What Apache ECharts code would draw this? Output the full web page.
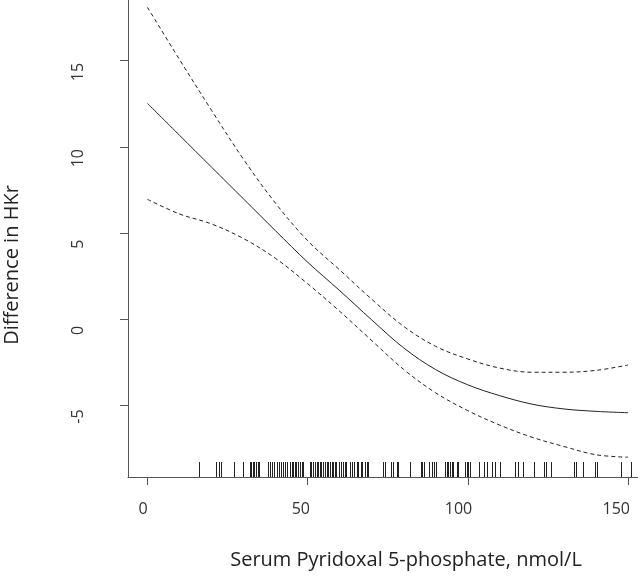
<!DOCTYPE html>
<html>
<head>
<meta charset="utf-8">
<script src="https://cdn.jsdelivr.net/npm/echarts@6/dist/echarts.min.js"></script>
<style>
html,body{margin:0;padding:0;background:#fff;}
#chart{width:638px;height:577px;}
</style>
</head>
<body>
<div id="chart"></div>
<script>
// ---- data ----
const xGrid = [0,10,20,30,40,50,60,70,80,90,100,110,120,130,140,150];
const fitValues   = [12.52,10.67,8.82,6.97,5.12,3.30,1.65,-0.05,-1.68,-2.94,-3.82,-4.45,-4.94,-5.22,-5.36,-5.44];
const upperValues = [18.10,15.07,12.12,9.27,6.72,4.55,2.85,1.15,-0.43,-1.59,-2.32,-2.85,-3.09,-3.09,-2.98,-2.67];
const lowerValues = [6.95,6.10,5.52,4.67,3.52,2.05,0.45,-1.25,-2.93,-4.29,-5.32,-6.16,-6.86,-7.40,-7.88,-8.02];
const rugValues = [16.0,21.5,22.3,23.0,27.0,29.9,31.9,32.3,32.8,33.2,33.8,34.4,34.9,37.7,38.2,38.8,39.5,40.3,41.0,41.6,42.3,43.0,43.6,44.4,45.0,45.5,46.0,46.5,47.0,47.6,48.1,48.6,50.7,51.2,51.7,52.3,52.8,53.3,53.8,54.3,54.8,55.4,55.9,56.4,56.9,57.5,58.0,58.5,59.0,59.8,60.4,61.1,61.6,62.1,63.2,63.7,64.4,65.3,65.8,66.6,67.1,67.9,68.4,68.9,73.6,74.1,75.9,76.5,77.8,78.3,81.9,85.3,85.8,86.3,87.9,88.7,89.4,90.0,92.8,93.4,93.9,94.4,94.9,95.4,96.5,97.0,99.1,99.6,100.1,100.7,103.5,105.0,106.0,107.5,108.6,109.9,114.6,115.6,117.2,120.6,123.8,124.5,126.0,133.0,133.9,136.0,139.6,140.4,147.9,150.8];
const xTicks = [0,50,100,150];
const yTicks = [-5,0,5,10,15];
const xTitle = 'Serum Pyridoxal 5-phosphate, nmol/L';
const yTitle = 'Difference in HKr';

// ---- chart ----
const X_MIN = -6.06, X_MAX = 153.1;
const Y_MIN = -9.17, Y_MAX = 18.52;
const Y_LABEL_SHIFT = 0.66;
const FONT = '"Open Sans", "Noto Sans", sans-serif';
const pair = arr => xGrid.map((x,i)=>[x,arr[i]]);

const chart = echarts.init(document.getElementById('chart'), null, {renderer:'canvas'});
const lineStyleSolid = {color:'#222', width:1};
const lineStyleDash = {color:'#222', width:1, type:[4,3]};

chart.setOption({
  animation:false,
  backgroundColor:'#ffffff',
  grid:{left:128, right:0, top:0, bottom:100, containLabel:false},
  xAxis:[{
    type:'value', min:X_MIN, max:X_MAX, position:'bottom',
    axisLine:{show:true, onZero:false, lineStyle:{color:'#555', width:1}},
    axisTick:{show:true, length:8, customValues:xTicks, lineStyle:{color:'#555'}},
    axisLabel:{show:false},
    splitLine:{show:false}
  },{
    type:'value', min:X_MIN+1.27, max:X_MAX+3.8, position:'bottom',
    axisLine:{show:false}, axisTick:{show:false}, splitLine:{show:false},
    axisLabel:{show:true, customValues:xTicks, margin:24, color:'#333', fontSize:16, fontFamily:FONT}
  }],
  yAxis:[{
    type:'value', min:Y_MIN, max:Y_MAX, position:'left',
    axisLine:{show:true, onZero:false, lineStyle:{color:'#555', width:1}},
    axisTick:{show:true, length:8, customValues:yTicks, lineStyle:{color:'#555'}},
    axisLabel:{show:false},
    splitLine:{show:false}
  },{
    type:'value', min:Y_MIN+Y_LABEL_SHIFT, max:Y_MAX+Y_LABEL_SHIFT, position:'left',
    axisLine:{show:false}, axisTick:{show:false}, splitLine:{show:false},
    axisLabel:{show:true, customValues:yTicks, rotate:90, margin:42, color:'#333', fontSize:16, fontFamily:FONT}
  }],
  graphic:[{
    type:'text', x:406, y:560,
    style:{text:xTitle, textAlign:'center', textVerticalAlign:'middle', font:'20px '+FONT, fill:'#222'}
  },{
    type:'text', x:12, y:265, rotation:Math.PI/2,
    style:{text:yTitle, textAlign:'center', textVerticalAlign:'middle', font:'20px '+FONT, fill:'#222'}
  }],
  series:[{
    type:'line', data:pair(fitValues), smooth:0.35, showSymbol:false, symbol:'none',
    lineStyle:lineStyleSolid, xAxisIndex:0, yAxisIndex:0, z:3
  },{
    type:'line', data:pair(upperValues), smooth:0.35, showSymbol:false, symbol:'none',
    lineStyle:lineStyleDash, xAxisIndex:0, yAxisIndex:0, z:3
  },{
    type:'line', data:pair(lowerValues), smooth:0.35, showSymbol:false, symbol:'none',
    lineStyle:lineStyleDash, xAxisIndex:0, yAxisIndex:0, z:3
  },{
    type:'custom', xAxisIndex:0, yAxisIndex:0, z:2,
    data:rugValues.map(v=>[v]),
    renderItem:function(params, api){
      const x = Math.round(api.coord([api.value(0), Y_MIN])[0]) + 0.5;
      const bottom = params.coordSys.y + params.coordSys.height;
      return {type:'line', shape:{x1:x, y1:bottom, x2:x, y2:bottom-15},
              style:{stroke:'#222', lineWidth:1}};
    }
  }]
});
</script>
</body>
</html>
